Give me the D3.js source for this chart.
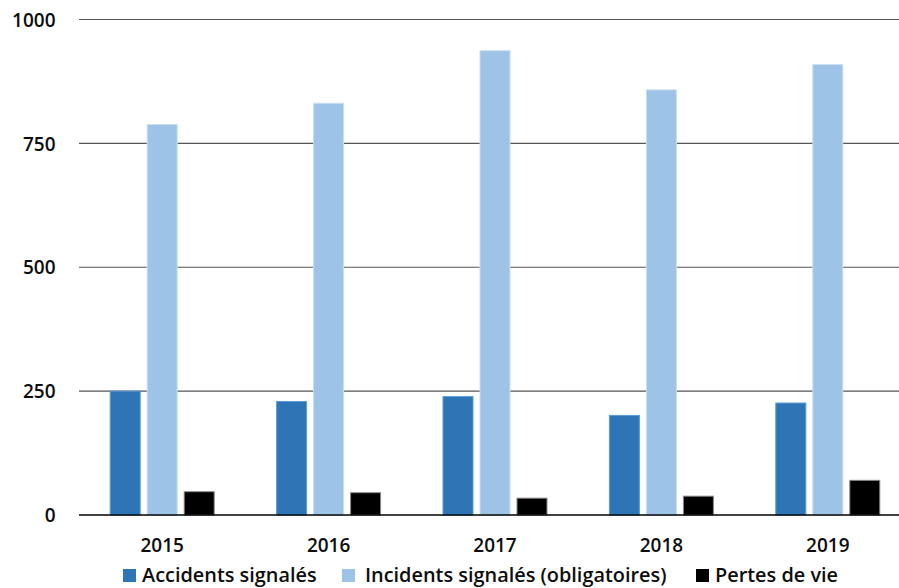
<!DOCTYPE html>
<html>
<head>
<meta charset="utf-8">
<script src="https://cdn.jsdelivr.net/npm/d3@7"></script>
<style>
  html, body { margin: 0; padding: 0; background: #fff; }
  svg { display: block; }
  text { font-family: "Open Sans", "Noto Sans", sans-serif; font-weight: 600; fill: #0d0d0d; }
</style>
</head>
<body>
<svg id="chart" width="899" height="588"></svg>
<script>
// Annual safety figures, 2015–2019
const years = ["2015", "2016", "2017", "2018", "2019"];
const accidents = [250, 229, 239, 201, 226];
const incidents = [788, 831, 937, 858, 909];
const deaths = [47, 45, 34, 38, 70];
const seriesNames = ["Accidents signalés", "Incidents signalés (obligatoires)", "Pertes de vie"];
const yTicks = [0, 250, 500, 750, 1000];

const seriesValues = [accidents, incidents, deaths];
const fills = ["#2E75B6", "#9DC3E6", "#000000"];
const strokes = ["#5B9BD5", "#C9DEF2", "#8A8A8A"];

const svg = d3.select("#chart");
const plotLeft = 79, plotRight = 911, plotTop = 19.5, plotBottom = 515;

const x0 = d3.scaleBand().domain(years).range([plotLeft, plotRight]).paddingInner(0.369).paddingOuter(0.1845);
const x1 = d3.scaleBand().domain(d3.range(3)).range([0, x0.bandwidth()]).paddingInner(0.162);
const y = d3.scaleLinear().domain([0, 1000]).range([plotBottom, plotTop]);

// horizontal gridlines
svg.append("g")
  .selectAll("line")
  .data(yTicks.filter(d => d > 0))
  .join("line")
  .attr("x1", plotLeft).attr("x2", 899)
  .attr("y1", d => y(d)).attr("y2", d => y(d))
  .attr("stroke", "#555").attr("stroke-width", 1.1);

// y tick labels
const yLab = svg.append("g");
yTicks.forEach(t => {
  yLab.append("text")
    .attr("transform", `translate(55.5,${y(t)}) scale(0.95,1)`)
    .attr("text-anchor", "end")
    .attr("dy", "0.36em")
    .attr("font-size", 20)
    .text(t);
});

// bars
const groups = svg.append("g")
  .selectAll("g")
  .data(years)
  .join("g")
  .attr("transform", d => `translate(${x0(d)},0)`);

groups.selectAll("rect")
  .data((d, i) => seriesValues.map((vals, s) => ({ s, v: vals[i] })))
  .join("rect")
  .attr("x", d => x1(d.s) + 0.5)
  .attr("width", x1.bandwidth() - 1)
  .attr("y", d => y(d.v))
  .attr("height", d => y(0) - y(d.v))
  .attr("fill", d => fills[d.s])
  .attr("stroke", d => strokes[d.s])
  .attr("stroke-width", 1);

// baseline
svg.append("line")
  .attr("x1", plotLeft).attr("x2", 899)
  .attr("y1", y(0)).attr("y2", y(0))
  .attr("stroke", "#000").attr("stroke-width", 1.4);

// x category labels
const xLab = svg.append("g");
years.forEach(yr => {
  xLab.append("text")
    .attr("transform", `translate(${x0(yr) + x0.bandwidth() / 2},545) scale(0.95,1)`)
    .attr("text-anchor", "middle")
    .attr("dy", "0.36em")
    .attr("font-size", 20)
    .text(yr);
});

// legend
const legendItems = [
  { sq: 123, tx: 142 },
  { sq: 342, tx: 365 },
  { sq: 696, tx: 715 }
];
const legend = svg.append("g");
seriesNames.forEach((name, i) => {
  legend.append("rect")
    .attr("x", legendItems[i].sq).attr("y", 569)
    .attr("width", 13).attr("height", 13)
    .attr("fill", fills[i]);
  legend.append("text")
    .attr("transform", `translate(${legendItems[i].tx},582) scale(0.97,1)`)
    .attr("font-size", 20.5)
    .text(name);
});
</script>
</body>
</html>
